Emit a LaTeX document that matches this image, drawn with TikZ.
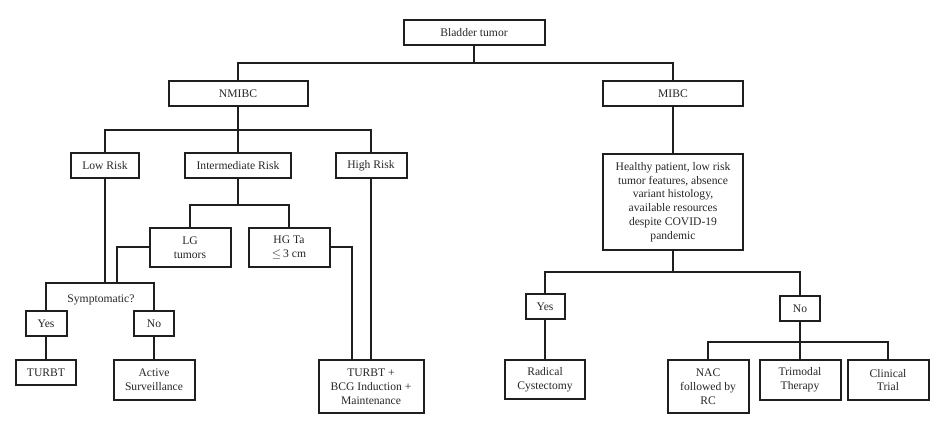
\documentclass[tikz,border=0pt]{standalone}
\usepackage{fontspec}
\setmainfont{Liberation Serif}
\begin{document}
\begin{tikzpicture}[x=1pt,y=-1pt,
  box/.style={draw=black!88, line width=2pt, rectangle, align=center, inner sep=0pt, text=black!85},
  conn/.style={draw=black!88, line width=2pt},
  every node/.style={font=\fontsize{11.6}{13.8}\selectfont}]
\useasboundingbox (0,0) rectangle (947,427);
% nodes
\node[box, minimum width=141, minimum height=25] (bt) at (474,32.5) {Bladder tumor};
\node[box, minimum width=139, minimum height=25] (nm) at (238,93.5) {NMIBC};
\node[box, minimum width=140, minimum height=25] (mi) at (673,93.5) {MIBC};
\node[box, minimum width=68, minimum height=25] (lr) at (105,165.5) {Low Risk};
\node[box, minimum width=106, minimum height=25] (ir) at (238,165.5) {Intermediate Risk};
\node[box, minimum width=71, minimum height=25] (hr) at (371,165.5) {High Risk};
\node[box, minimum width=81, minimum height=39] (lg) at (190,247.5) {LG\\tumors};
\node[box, minimum width=81, minimum height=39] (hg) at (289,247.5) {HG Ta\\$\leq$\,3 cm};
\node[text=black!85] (sym) at (101,300) {Symptomatic?};
\node[box, minimum width=41, minimum height=25] (ys) at (46,323.5) {Yes};
\node[box, minimum width=40, minimum height=25] (ns) at (154,323.5) {No};
\node[box, minimum width=60, minimum height=25] (tu) at (46,372.5) {TURBT};
\node[box, minimum width=81, minimum height=40] (as) at (154,380) {Active\\Surveillance};
\node[box, minimum width=105, minimum height=53] (tb) at (371,386.5) {TURBT +\\BCG Induction +\\Maintenance};
\node[box, minimum width=140, minimum height=96] (hp) at (673,202) {Healthy patient, low risk\\tumor features, absence\\variant histology,\\available resources\\despite COVID-19\\pandemic};
\node[box, minimum width=39, minimum height=25] (ym) at (545,306.5) {Yes};
\node[box, minimum width=40, minimum height=25] (nmb) at (800,308.5) {No};
\node[box, minimum width=80, minimum height=39] (rc) at (545,379.5) {Radical\\Cystectomy};
\node[box, minimum width=81, minimum height=53] (nac) at (708,386.5) {NAC\\followed by\\RC};
\node[box, minimum width=81, minimum height=40] (tri) at (800,380) {Trimodal\\Therapy};
\node[box, minimum width=81, minimum height=40] (ct) at (888,380) {Clinical\\Trial};
% junction coordinates
\coordinate (j1) at (474,63);
\coordinate (j2) at (238,130);
\coordinate (j3) at (238,205);
\coordinate (symL) at (46,283);
\coordinate (symR) at (154,283);
\coordinate (lgj) at (117,283);
\coordinate (hgj) at (352,360);
\coordinate (j4) at (673,272);
\coordinate (j5) at (800,342);
% connectors
\draw[conn] (bt.south) -- (j1);
\draw[conn] (nm.north) |- (j1) -| (mi.north);
\draw[conn] (nm.south) -- (j2);
\draw[conn] (lr.north) |- (j2) -| (hr.north);
\draw[conn] (j2) -- (ir.north);
\draw[conn] (ir.south) -- (j3);
\draw[conn] (lg.north) |- (j3) -| (hg.north);
\draw[conn] (lr.south) -- (lr.south |- symL);
\draw[conn] (lg.west) -| (lgj);
\draw[conn] (ys.north) -- (symL) -- (symR) -- (ns.north);
\draw[conn] (ys.south) -- (tu.north);
\draw[conn] (ns.south) -- (as.north);
\draw[conn] (hg.east) -| (hgj);
\draw[conn] (hr.south) -- (tb.north);
\draw[conn] (mi.south) -- (hp.north);
\draw[conn] (hp.south) -- (j4);
\draw[conn] (ym.north) |- (j4) -| (nmb.north);
\draw[conn] (ym.south) -- (rc.north);
\draw[conn] (nmb.south) -- (j5);
\draw[conn] (nac.north) |- (j5) -| (ct.north);
\draw[conn] (j5) -- (tri.north);
\end{tikzpicture}
\end{document}
